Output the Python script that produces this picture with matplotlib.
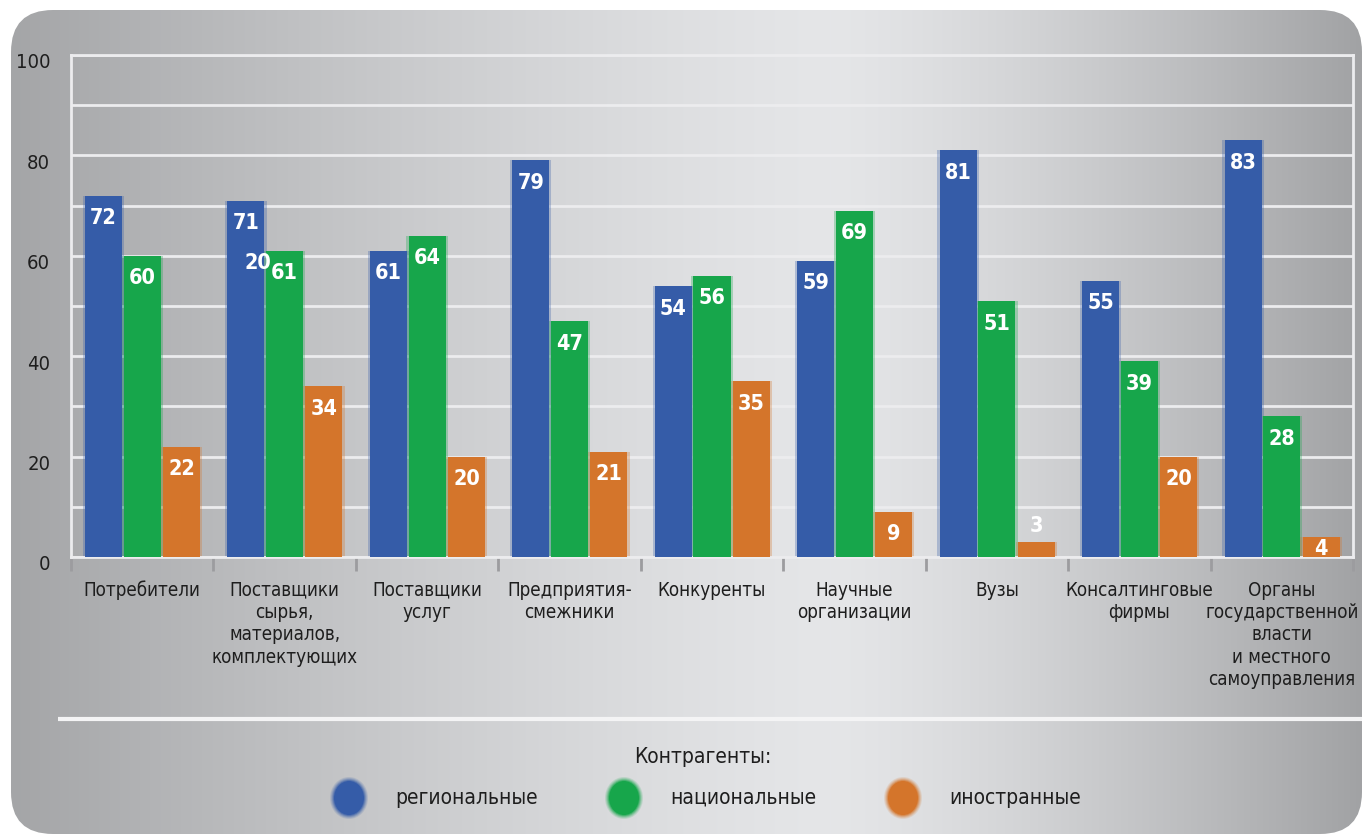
import numpy as np
import matplotlib
matplotlib.use('Agg')
import matplotlib.pyplot as plt
from matplotlib.patches import FancyBboxPatch, Ellipse
from matplotlib.transforms import ScaledTranslation

# ===== data =====
categories = ['Потребители', 'Поставщики\nсырья,\nматериалов,\nкомплектующих', 'Поставщики\nуслуг',
              'Предприятия-\nсмежники', 'Конкуренты', 'Научные\nорганизации', 'Вузы',
              'Консалтинговые\nфирмы',
              'Органы\nгосударственной\nвласти\nи местного\nсамоуправления']
regional = [72, 71, 61, 79, 54, 59, 81, 55, 83]
national = [60, 61, 64, 47, 56, 69, 51, 39, 28]
foreign = [22, 34, 20, 21, 35, 9, 3, 20, 4]
series_names = ['региональные', 'национальные', 'иностранные']
legend_title = 'Контрагенты:'
# stray label that the original prints beside the 2nd group
stray_text, stray_x, stray_y = '20', 0.81, 58.5
yticks = [0, 20, 40, 60, 80, 100]

colors = ['#355ca8', '#17a64b', '#d4752b']
text_col = '#1e1e1e'

plt.rcParams['font.family'] = ['DejaVu Sans']
plt.rcParams['font.stretch'] = 'condensed'

W, H = 1362, 834
fig = plt.figure(figsize=(W / 100, H / 100), dpi=100)
fig.patch.set_facecolor('white')

# ----- background panel with gradient -----
bg = fig.add_axes([0, 0, 1, 1], zorder=0)
bg.set_xlim(0, W)
bg.set_ylim(H, 0)
bg.axis('off')

xs = np.arange(W)
mid = 830
prof = np.where(xs < mid,
                232 - 66 * ((mid - xs) / mid) ** 1.3,
                232 - 68 * ((xs - mid) / (W - mid)) ** 1.3) / 255.0
grad = np.stack([prof - 0.012, prof - 0.008, prof], axis=-1)[None, :, :]
grad = np.clip(grad, 0, 1)
im = bg.imshow(grad, extent=(0, W, H, 0), aspect='auto', zorder=0)
panel = FancyBboxPatch((11, 10), W - 11, H - 10, boxstyle='round,pad=0,rounding_size=42',
                       transform=bg.transData, facecolor='none', edgecolor='none')
bg.add_patch(panel)
im.set_clip_path(panel)

# separator line and legend
bg.plot([58, W], [719, 719], color='#f4f4f5', lw=3, solid_capstyle='butt', zorder=2)
bg.text(703, 757, legend_title, ha='center', va='center', fontsize=15, color=text_col)
leg_x = [349, 624, 903]
for lx, name, c in zip(leg_x, series_names, colors):
    for k, a in zip(range(5), [0.15, 0.2, 0.3, 0.5, 1.0]):
        bg.add_patch(Ellipse((lx, 798), 38 - 2 * k, 42 - 2 * k, facecolor=c, edgecolor='none',
                             alpha=a, zorder=3))
    bg.text(lx + 46, 798, name, ha='left', va='center', fontsize=15, color=text_col)

# ----- main chart -----
ax = fig.add_axes([71 / W, 1 - 557 / H, (1353 - 71) / W, (557 - 55) / H], zorder=1)
ax.patch.set_visible(False)

x = np.arange(len(categories))
offsets = [-0.272, 0.0, 0.276]
bw = 0.26
for vals, off, c in zip([regional, national, foreign], offsets, colors):
    ax.bar(x + off, vals, width=bw + 0.03, color=c, alpha=0.3, zorder=2.5, linewidth=0)
    ax.bar(x + off, vals, width=bw, color=c, zorder=3, linewidth=0)
    for xi, v in zip(x, vals):
        if v >= 8:
            ty = v - 4.5
        elif v >= 4:
            ty = v - 2.4
        else:
            ty = v + 3.2
        ax.text(xi + off, ty, str(v), ha='center', va='center', color='white',
                fontsize=15.5, fontweight='bold', zorder=4)

ax.text(stray_x, stray_y, stray_text, ha='center', va='center', color='white',
        fontsize=15.5, fontweight='bold', zorder=4)

ax.set_xlim(-0.5, len(categories) - 0.5)
ax.set_ylim(0, 100)

ax.set_yticks(yticks)
ax.set_yticks(range(10, 100, 20), minor=True)
ax.grid(axis='y', which='both', color='#ececee', lw=2)
ax.set_axisbelow(True)
ax.tick_params(axis='y', which='both', length=0, pad=15, labelsize=14.5, labelcolor=text_col)
for lbl in ax.get_yticklabels():
    lbl.set_transform(lbl.get_transform() + ScaledTranslation(0, -0.06, fig.dpi_scale_trans))

# group boundary ticks and category labels
ax.set_xticks(np.arange(len(categories) + 1) - 0.5)
ax.set_xticklabels([])
ax.tick_params(axis='x', which='major', length=10, width=2, color='#9c9c9f', direction='out')
ax.set_xticks(x, categories, minor=True)
ax.tick_params(axis='x', which='minor', length=0, pad=17, labelsize=13.5, labelcolor=text_col)
for lbl in ax.get_xticklabels(minor=True):
    lbl.set_linespacing(1.22)

for s in ax.spines.values():
    s.set_color('#ececee')
    s.set_linewidth(2)

fig.savefig('out.png', dpi=100)
